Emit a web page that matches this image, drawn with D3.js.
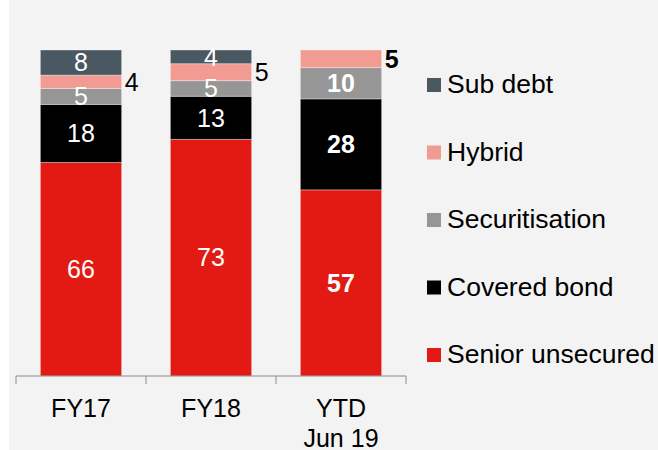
<!DOCTYPE html>
<html>
<head>
<meta charset="utf-8">
<script src="https://cdn.jsdelivr.net/npm/d3@7"></script>
<style>
  html, body { margin: 0; padding: 0; background: #ffffff; }
  svg { display: block; font-family: "Liberation Sans", Arial, sans-serif; }
</style>
</head>
<body>
<div id="chart"></div>
<script>
// Funding mix by product (%), stacked bottom to top
const categories = ['FY17', 'FY18', 'YTD Jun 19'];
const categoryLines = [['FY17'], ['FY18'], ['YTD', 'Jun 19']];
const seriesNames = ['Senior unsecured', 'Covered bond', 'Securitisation', 'Hybrid', 'Sub debt'];
const seniorUnsecured = [65.5, 72.6, 57.1];
const coveredBond = [17.8, 13.2, 27.9];
const securitisation = [4.9, 4.8, 9.6];
const hybrid = [4.1, 5.2, 5.4];
const subDebt = [7.7, 4.2, 0];
const seriesColors = ['#e31a14', '#000000', '#969696', '#f19b92', '#4a5862'];
const boldCategory = 'YTD Jun 19';

const width = 658, height = 450;
const margin = {top: 50, bottom: 74, left: 16, right: 252};

const svg = d3.select('#chart').append('svg')
  .attr('width', width).attr('height', height);

// grey panel behind the chart
svg.append('rect')
  .attr('x', 9).attr('y', 0)
  .attr('width', width - 9).attr('height', height)
  .attr('fill', '#f3f3f3');

const values = [seniorUnsecured, coveredBond, securitisation, hybrid, subDebt];
const rows = categories.map((c, i) => {
  const row = {category: c};
  seriesNames.forEach((s, j) => { row[s] = values[j][i]; });
  return row;
});

const stack = d3.stack().keys(seriesNames);
const layers = stack(rows);

const x = d3.scaleBand().domain(categories)
  .range([margin.left, width - margin.right]).padding(0);
const barW = x.bandwidth() * 0.625;
const y = d3.scaleLinear().domain([0, 100])
  .range([height - margin.bottom, margin.top]);
const color = d3.scaleOrdinal().domain(seriesNames).range(seriesColors);

// bars
const layer = svg.selectAll('.layer')
  .data(layers)
  .enter().append('g')
  .attr('class', 'layer')
  .attr('fill', d => color(d.key));

layer.selectAll('rect')
  .data(d => d)
  .enter().append('rect')
  .attr('x', d => x(d.data.category) + (x.bandwidth() - barW) / 2)
  .attr('y', d => y(d[1]))
  .attr('width', barW)
  .attr('height', d => y(d[0]) - y(d[1]))
  .attr('stroke', 'rgba(255,255,255,0.35)')
  .attr('stroke-width', 1);

// value labels (hybrid sits outside the bar, to its right)
layers.forEach(l => {
  l.forEach(d => {
    const v = d[1] - d[0];
    if (!v) return;
    const outside = l.key === 'Hybrid';
    const bold = d.data.category === boldCategory;
    const cx = x(d.data.category) + x.bandwidth() / 2;
    svg.append('text')
      .attr('x', outside ? cx + barW / 2 + 3 : cx)
      .attr('y', (y(d[0]) + y(d[1])) / 2)
      .attr('dy', '0.35em')
      .attr('text-anchor', outside ? 'start' : 'middle')
      .attr('fill', outside ? '#000' : '#fff')
      .attr('font-size', 25)
      .attr('font-weight', bold ? 'bold' : 'normal')
      .text(Math.round(v));
  });
});

// category axis with ticks between the bars
const axisY = y(0);
const axis = svg.append('g').attr('class', 'axis-x');
axis.append('line')
  .attr('x1', x.range()[0]).attr('x2', x.range()[1])
  .attr('y1', axisY).attr('y2', axisY)
  .attr('stroke', '#8c8c8c').attr('stroke-width', 1);
const tickXs = categories.map(c => x(c)).concat([x.range()[1]]);
axis.selectAll('.tick')
  .data(tickXs)
  .enter().append('line')
  .attr('x1', d => d).attr('x2', d => d)
  .attr('y1', axisY).attr('y2', axisY + 8)
  .attr('stroke', '#8c8c8c');

categories.forEach((c, i) => {
  const t = axis.append('text')
    .attr('x', x(c) + x.bandwidth() / 2)
    .attr('y', axisY + 41)
    .attr('text-anchor', 'middle')
    .attr('font-size', 25)
    .attr('fill', '#000');
  categoryLines[i].forEach((line, k) => {
    t.append('tspan')
      .attr('x', x(c) + x.bandwidth() / 2)
      .attr('dy', k === 0 ? 0 : 30)
      .text(line);
  });
});

// legend, top to bottom in reverse stack order
const legendItems = seriesNames.slice().reverse();
const legend = svg.selectAll('.legend')
  .data(legendItems)
  .enter().append('g')
  .attr('class', 'legend')
  .attr('transform', (d, i) => `translate(427, ${78 + i * 67.5})`);

legend.append('rect')
  .attr('width', 14).attr('height', 14)
  .attr('fill', d => color(d));

legend.append('text')
  .attr('x', 20).attr('y', 15)
  .attr('font-size', 26.5)
  .attr('fill', '#000')
  .text(d => d);
</script>
</body>
</html>
